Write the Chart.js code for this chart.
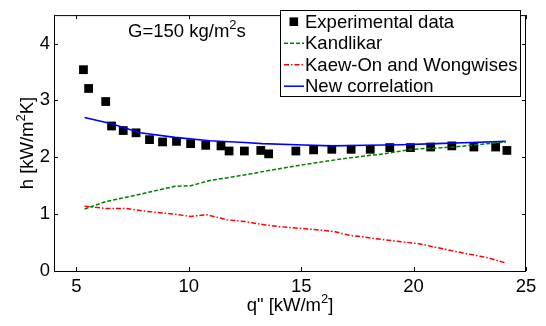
<!DOCTYPE html>
<html>
<head>
<meta charset="utf-8">
<script src="https://cdn.jsdelivr.net/npm/chart.js@4"></script>
<style>
html, body { margin: 0; padding: 0; background: #fff; }
canvas { display: block; }
</style>
</head>
<body>
<canvas id="myChart" width="546" height="326"></canvas>
<script>
// 實驗數據 (q" [kW/m2], h [kW/m2K])
const expX = [5.31, 5.54, 6.30, 6.56, 7.08, 7.65, 8.25, 8.83, 9.45, 10.08, 10.75, 11.43, 11.79, 12.47, 13.20, 13.55, 14.76, 15.55, 16.36, 17.22, 18.07, 18.94, 19.86, 20.76, 21.70, 22.68, 23.65, 24.15];
const expY = [3.54, 3.21, 2.98, 2.55, 2.47, 2.43, 2.31, 2.27, 2.28, 2.24, 2.21, 2.20, 2.11, 2.11, 2.12, 2.06, 2.11, 2.13, 2.14, 2.14, 2.14, 2.17, 2.17, 2.18, 2.20, 2.18, 2.18, 2.12];

// Kandlikar
const kandX = [5.36, 6.29, 7.83, 9.38, 10.08, 10.93, 12.48, 14.03, 15.58, 17.13, 18.68, 19.92, 21.78, 24.10];
const kandY = [1.09, 1.22, 1.35, 1.49, 1.50, 1.59, 1.69, 1.80, 1.90, 1.99, 2.06, 2.14, 2.18, 2.27];

// Kaew-On and Wongwises
const kaewX = [5.36, 6.29, 7.20, 8.30, 9.38, 10.08, 10.78, 11.70, 12.48, 13.40, 14.03, 15.58, 16.50, 17.13, 18.68, 20.23, 21.78, 23.33, 24.10];
const kaewY = [1.14, 1.10, 1.10, 1.04, 1.00, 0.96, 0.99, 0.90, 0.87, 0.81, 0.78, 0.73, 0.69, 0.63, 0.55, 0.48, 0.35, 0.23, 0.14];

// New correlation
const newX = [5.36, 6.56, 7.83, 9.38, 10.93, 12.48, 13.26, 14.80, 16.36, 17.90, 19.45, 21.00, 22.55, 24.10];
const newY = [2.70, 2.59, 2.43, 2.35, 2.29, 2.26, 2.24, 2.22, 2.20, 2.21, 2.22, 2.24, 2.26, 2.28];

// 軸刻度
const xTicks = [5, 10, 15, 20, 25];
const yTicks = [0, 1, 2, 3, 4];

const legendLabels = ['Experimental data', 'Kandlikar', 'Kaew-On and Wongwises', 'New correlation'];

const FONT = '"Liberation Sans", Arial, sans-serif';
const FS = 18.5;

function toPoints(xs, ys) {
    return xs.map((x, i) => ({ x: x, y: ys[i] }));
}

// 畫帶上標的文字
function drawParts(ctx, parts, x, y, size) {
    let cx = x;
    parts.forEach(p => {
        if (p.sup) {
            ctx.font = (size * 0.7) + 'px ' + FONT;
            ctx.fillText(p.text, cx, y - size * 0.42);
        } else {
            ctx.font = size + 'px ' + FONT;
            ctx.fillText(p.text, cx, y);
        }
        cx += ctx.measureText(p.text).width;
    });
}

function partsWidth(ctx, parts, size) {
    let w = 0;
    parts.forEach(p => {
        ctx.font = (p.sup ? size * 0.7 : size) + 'px ' + FONT;
        w += ctx.measureText(p.text).width;
    });
    return w;
}

const matlabPlugin = {
    id: 'matlabStyle',
    afterDatasetsDraw(chart) {
        const ctx = chart.ctx;
        const area = chart.chartArea;
        const xs = chart.scales.x;
        const ys = chart.scales.y;
        ctx.save();

        // 外框
        ctx.strokeStyle = '#000';
        ctx.lineWidth = 1;
        ctx.strokeRect(area.left + 0.5, area.top + 0.5, area.right - area.left - 1, area.bottom - area.top);

        // 向內的刻度
        const tl = 4;
        ctx.beginPath();
        xTicks.forEach(v => {
            const px = Math.round(xs.getPixelForValue(v)) + 0.5;
            ctx.moveTo(px, area.bottom);
            ctx.lineTo(px, area.bottom - tl);
            ctx.moveTo(px, area.top);
            ctx.lineTo(px, area.top + tl);
        });
        yTicks.forEach(v => {
            const py = Math.round(ys.getPixelForValue(v)) + 0.5;
            ctx.moveTo(area.left, py);
            ctx.lineTo(area.left + tl, py);
            ctx.moveTo(area.right, py);
            ctx.lineTo(area.right - tl, py);
        });
        ctx.stroke();

        ctx.fillStyle = '#000';
        ctx.textBaseline = 'alphabetic';
        ctx.textAlign = 'left';

        // 標註 G=150 kg/m2s
        drawParts(ctx, [{ text: 'G=150 kg/m' }, { text: '2', sup: true }, { text: 's' }], 128, 37, FS);

        // 圖例
        const lx = 280.5, ly = 10.5, lw = 240, lh = 86;
        ctx.fillStyle = '#fff';
        ctx.fillRect(lx, ly, lw, lh);
        ctx.strokeStyle = '#000';
        ctx.strokeRect(lx, ly, lw, lh);
        const rows = [21.7, 43.2, 64.7, 86.2];
        const ds = chart.data.datasets;
        rows.forEach((ry, i) => {
            const d = ds[i];
            if (i === 0) {
                ctx.fillStyle = '#000';
                ctx.fillRect(289.5, ry - 4.3, 8.6, 8.6);
            } else {
                ctx.strokeStyle = d.borderColor;
                ctx.lineWidth = 1.5;
                ctx.setLineDash(d.borderDash || []);
                ctx.beginPath();
                ctx.moveTo(284, ry);
                ctx.lineTo(304, ry);
                ctx.stroke();
                ctx.setLineDash([]);
            }
            ctx.fillStyle = '#000';
            ctx.font = FS + 'px ' + FONT;
            ctx.textBaseline = 'middle';
            ctx.fillText(legendLabels[i], 305, ry + 1);
        });

        // 軸標題
        ctx.textBaseline = 'alphabetic';
        const xt = [{ text: 'q" [kW/m' }, { text: '2', sup: true }, { text: ']' }];
        const xw = partsWidth(ctx, xt, FS);
        drawParts(ctx, xt, (area.left + area.right) / 2 - xw / 2, 311, FS);

        const yt = [{ text: 'h [kW/m' }, { text: '2', sup: true }, { text: 'K]' }];
        const yw = partsWidth(ctx, yt, FS);
        ctx.translate(33, (area.top + area.bottom) / 2);
        ctx.rotate(-Math.PI / 2);
        drawParts(ctx, yt, -yw / 2, 0, FS);

        ctx.restore();
    }
};

const ctx = document.getElementById('myChart').getContext('2d');
new Chart(ctx, {
    type: 'scatter',
    data: {
        datasets: [
            {
                label: legendLabels[0],
                data: toPoints(expX, expY),
                pointStyle: 'rect',
                pointRadius: 6.2,
                pointBackgroundColor: '#000',
                pointBorderColor: '#000',
                pointBorderWidth: 0,
                showLine: false,
                order: 5
            },
            {
                label: legendLabels[1],
                data: toPoints(kandX, kandY),
                showLine: true,
                borderColor: '#008000',
                borderWidth: 1.5,
                borderDash: [4, 2],
                pointRadius: 0,
                fill: false,
                order: 1
            },
            {
                label: legendLabels[2],
                data: toPoints(kaewX, kaewY),
                showLine: true,
                borderColor: '#ff0000',
                borderWidth: 1.5,
                borderDash: [5, 2, 1.5, 2],
                pointRadius: 0,
                fill: false,
                order: 1
            },
            {
                label: legendLabels[3],
                data: toPoints(newX, newY),
                showLine: true,
                borderColor: '#0000ff',
                borderWidth: 1.6,
                pointRadius: 0,
                fill: false,
                order: 1
            }
        ]
    },
    options: {
        responsive: false,
        animation: false,
        layout: { padding: { top: 5, right: 20, left: 0, bottom: 0 } },
        plugins: {
            legend: { display: false },
            tooltip: { enabled: false }
        },
        scales: {
            x: {
                type: 'linear',
                min: 4,
                max: 25,
                afterBuildTicks: s => { s.ticks = xTicks.map(v => ({ value: v })); },
                afterFit: s => { s.height = 55; },
                grid: { display: false, drawTicks: false },
                border: { display: false },
                ticks: {
                    color: '#000',
                    padding: 5,
                    maxRotation: 0,
                    autoSkip: false,
                    font: { family: FONT, size: FS }
                }
            },
            y: {
                type: 'linear',
                min: 0,
                max: 4.5,
                afterBuildTicks: s => { s.ticks = yTicks.map(v => ({ value: v })); },
                afterFit: s => { s.width = 54; },
                grid: { display: false, drawTicks: false },
                border: { display: false },
                ticks: {
                    color: '#000',
                    padding: 4,
                    autoSkip: false,
                    font: { family: FONT, size: FS }
                }
            }
        }
    },
    plugins: [matlabPlugin]
});
</script>
</body>
</html>
